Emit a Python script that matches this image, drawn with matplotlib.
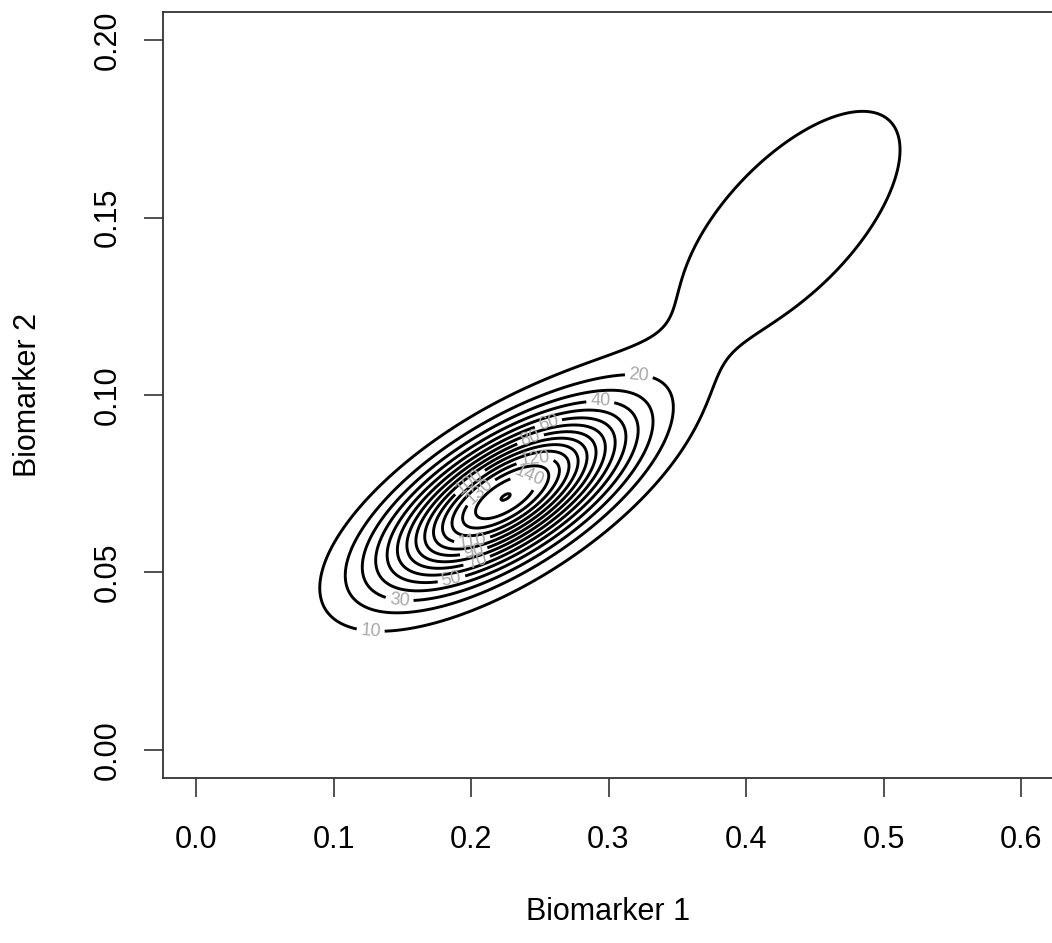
import numpy as np
import matplotlib
matplotlib.use("Agg")
import matplotlib.pyplot as plt

plt.rcParams['font.family'] = ['Liberation Sans', 'DejaVu Sans']

# Gaussian mixture
mix_weight = [0.654, 0.185]
mix_mean_x = [0.225, 0.432]
mix_mean_y = [0.0712, 0.148]
mix_sd_x = [0.058, 0.0738]
mix_sd_y = [0.01625, 0.0295]
mix_rho = [0.677, 0.66]

levels = [10, 20, 30, 40, 50, 60, 70, 80, 90, 100, 110, 120, 130, 140, 150]
x_ticks = [0.0, 0.1, 0.2, 0.3, 0.4, 0.5, 0.6]
y_ticks = [0.00, 0.05, 0.10, 0.15, 0.20]

# where each contour label sits (near this point on its own contour)
label_spot = {10: (0.127, 0.0346), 20: (0.322, 0.1045), 30: (0.149, 0.0444),
              40: (0.294, 0.0955), 50: (0.184, 0.0511), 60: (0.258, 0.0899),
              70: (0.205, 0.052), 80: (0.245, 0.086), 90: (0.205, 0.052),
              100: (0.20, 0.075), 110: (0.205, 0.052), 120: (0.245, 0.086),
              130: (0.20, 0.075), 140: (0.245, 0.086)}


def density(x, y):
    z = np.zeros_like(x)
    for w, mx, my, sx, sy, r in zip(mix_weight, mix_mean_x, mix_mean_y,
                                    mix_sd_x, mix_sd_y, mix_rho):
        u = (x - mx) / sx
        v = (y - my) / sy
        q = (u * u - 2 * r * u * v + v * v) / (1 - r * r)
        z += w * np.exp(-q / 2) / (2 * np.pi * sx * sy * np.sqrt(1 - r * r))
    return z


xs = np.linspace(-0.024, 0.624, 600)
ys = np.linspace(-0.008, 0.208, 600)
X, Y = np.meshgrid(xs, ys)
Z = density(X, Y)

fig = plt.figure(figsize=(10.52, 9.43), dpi=100)
ax = fig.add_axes([163 / 1052, 1 - 778 / 943, (1054 - 163) / 1052, 766 / 943])
ax.set_xlim(-0.024, 0.624)
ax.set_ylim(-0.008, 0.208)

cs = ax.contour(X, Y, Z, levels=levels, colors='black', linewidths=2.1)

# snap each spot onto a vertex of its own contour so clabel picks that level
spots = []
for lev, (sx, sy) in label_spot.items():
    segs = cs.allsegs[levels.index(lev)]
    pts = np.vstack(segs)
    d = ((pts[:, 0] - sx) / 0.648) ** 2 + ((pts[:, 1] - sy) / 0.216) ** 2
    spots.append(tuple(pts[np.argmin(d)]))
ax.clabel(cs, levels[:-1], inline=True, fontsize=13, colors='#a8a8a8',
          fmt='%d', manual=spots, inline_spacing=4)

ax.set_xticks(x_ticks)
ax.set_xticklabels([f"{t:.1f}" for t in x_ticks])
ax.set_yticks(y_ticks)
ax.set_yticklabels([f"{t:.2f}" for t in y_ticks], rotation=90, va='center')
ax.tick_params(length=14, width=1.2, labelsize=22, color='#333333')
ax.tick_params(axis='x', pad=20)
ax.tick_params(axis='y', pad=15)
for s in ax.spines.values():
    s.set_linewidth(1.3)
    s.set_color('#333333')

fig.text(608 / 1052, 1 - 912 / 943, "Biomarker 1", ha='center', va='center', fontsize=22)
fig.text(28 / 1052, 1 - 395 / 943, "Biomarker 2", ha='center', va='center',
         rotation=90, fontsize=22)

fig.savefig("out.png", dpi=100)
